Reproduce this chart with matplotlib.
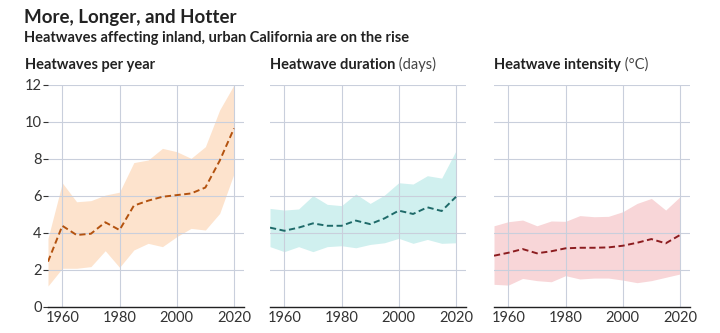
import matplotlib.pyplot as plt

plt.rcParams['font.family'] = ['Lato', 'DejaVu Sans']

years = [1955, 1960, 1965, 1970, 1975, 1980, 1985, 1990, 1995, 2000, 2005, 2010, 2015, 2020]

# heatwaves per year
count_mean = [2.44, 4.38, 3.88, 3.95, 4.57, 4.15, 5.47, 5.74, 5.95, 6.04, 6.13, 6.45, 7.9, 9.65]
count_high = [3.7, 6.7, 5.68, 5.74, 6.04, 6.2, 7.8, 7.94, 8.57, 8.39, 8.03, 8.66, 10.65, 12.0]
count_low = [1.12, 2.08, 2.08, 2.17, 3.03, 2.13, 3.07, 3.43, 3.25, 3.79, 4.24, 4.15, 5.05, 7.2]

# heatwave duration (days)
dur_mean = [4.28, 4.11, 4.28, 4.51, 4.38, 4.38, 4.66, 4.47, 4.78, 5.2, 5.02, 5.38, 5.18, 5.95]
dur_high = [5.32, 5.23, 5.29, 6.01, 5.54, 5.47, 6.1, 5.59, 6.04, 6.71, 6.64, 7.09, 6.96, 8.44]
dur_low = [3.25, 2.98, 3.25, 2.98, 3.25, 3.3, 3.19, 3.37, 3.46, 3.7, 3.43, 3.64, 3.43, 3.46]

# heatwave intensity (C)
int_mean = [2.76, 2.92, 3.12, 2.89, 3.0, 3.16, 3.19, 3.19, 3.21, 3.3, 3.46, 3.66, 3.43, 3.88]
int_high = [4.38, 4.6, 4.69, 4.38, 4.64, 4.62, 4.93, 4.87, 4.89, 5.14, 5.59, 5.86, 5.23, 5.95]
int_low = [1.21, 1.17, 1.53, 1.41, 1.35, 1.68, 1.5, 1.55, 1.55, 1.44, 1.3, 1.41, 1.59, 1.77]

panels = [
    ("Heatwaves per year", "", count_mean, count_high, count_low, '#fde3cd', '#b3520f'),
    ("Heatwave duration", " (days)", dur_mean, dur_high, dur_low, '#d0f0ef', '#1e6a69'),
    ("Heatwave intensity", " (°C)", int_mean, int_high, int_low, '#f8d6d8', '#8c1c1f'),
]

fig = plt.figure(figsize=(7.2, 3.33), dpi=100)
fig.text(0.034, 0.93, "More, Longer, and Hotter", fontsize=13.5, fontweight='bold', color='#222222')
fig.text(0.034, 0.875, "Heatwaves affecting inland, urban California are on the rise",
         fontsize=10.5, fontweight='bold', color='#222222')

lefts = [48, 270, 494]
width = 196
for i, (title, unit, mean, high, low, fill, line) in enumerate(panels):
    ax = fig.add_axes([lefts[i] / 720, (333 - 306.7) / 333, width / 720, (306.7 - 85) / 333])
    ax.fill_between(years, low, high, color=fill, linewidth=0)
    ax.plot(years, mean, color=line, linestyle=(0, (3.2, 1.8)), linewidth=1.4)
    ax.set_xlim(1955, 2023.5)
    ax.set_ylim(0, 12)
    ax.set_xticks([1960, 1980, 2000, 2020])
    ax.set_yticks(range(0, 13, 2))
    ax.set_axisbelow('line')
    ax.grid(True, color='#c9cfdc', linewidth=0.8)
    for s in ['top', 'right', 'left']:
        ax.spines[s].set_visible(False)
    ax.spines['bottom'].set_color('#222222')
    ax.spines['bottom'].set_linewidth(1.0)
    ax.tick_params(axis='x', length=0, pad=3, labelsize=10.5, colors='#333333')
    if i == 0:
        ax.tick_params(axis='y', length=3.8, width=0.8, color='#333333', pad=0.8,
                       labelsize=10.5, labelcolor='#333333')
    else:
        ax.tick_params(axis='y', length=0, labelleft=False)
    t = ax.text(0 if i else -0.118, 1.06, title, transform=ax.transAxes, fontsize=10.5,
                fontweight='bold', color='#222222', va='bottom')
    if unit:
        ax.annotate(unit, xycoords=t, xy=(1, 0), va='bottom', fontsize=10.5, color='#444444')

fig.savefig('out.png', dpi=100)
